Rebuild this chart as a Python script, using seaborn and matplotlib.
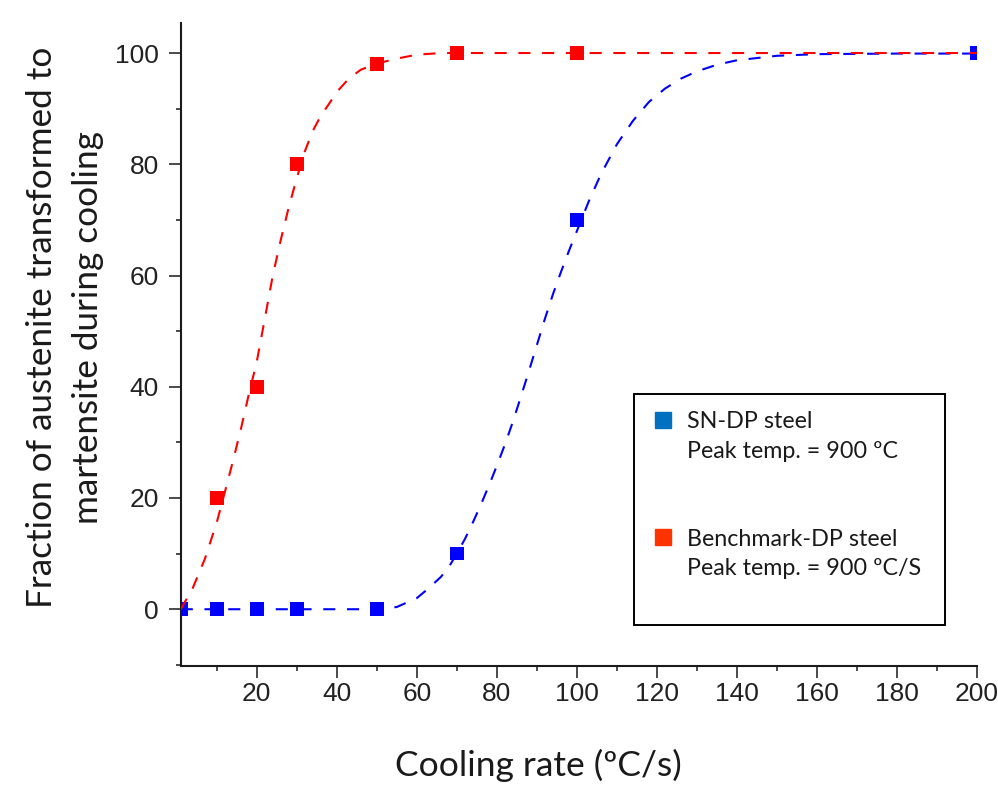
import matplotlib
matplotlib.use("Agg")
import matplotlib.pyplot as plt
import seaborn as sns
from matplotlib.lines import Line2D
from matplotlib.ticker import MultipleLocator, FixedLocator

# ---------------- data ----------------
cooling_rate = [1, 10, 20, 30, 50, 70, 100, 200]
sn_dp_fraction = [0, 0, 0, 0, 0, 10, 70, 100]
benchmark_fraction = [0, 20, 40, 80, 98, 100, 100, 100]

# dashed fitted curves
sn_fit_rate = [1, 20, 40, 50, 55, 60, 63, 66, 68, 70, 72, 74, 76, 78, 80, 82, 84, 86,
               88, 90, 92, 94, 96, 98, 100, 103, 106, 110, 114, 118, 122, 126, 130,
               135, 140, 150, 160, 180, 200]
sn_fit_fraction = [0, 0, 0, 0, 0.4, 2.0, 3.8, 5.8, 7.6, 10.0, 12.6, 15.6, 18.8, 22.2,
                   25.8, 29.6, 33.7, 38.2, 42.8, 47.5, 52.2, 56.6, 60.6, 64.4, 68.0,
                   73.4, 78.2, 83.6, 87.8, 91.2, 93.6, 95.4, 96.7, 97.9, 98.7, 99.5,
                   99.8, 99.9, 99.9]
bm_fit_rate = [1, 4, 7, 10, 12, 14, 16, 18, 20, 22, 24, 26, 28, 30, 32, 34, 36, 38, 40,
               43, 46, 50, 55, 60, 66, 80, 100, 150, 200]
bm_fit_fraction = [0, 3.8, 9.0, 15.6, 21.0, 26.5, 32.3, 38.6, 44.5, 52.2, 60.0, 66.4,
                   72.3, 77.5, 82.3, 86.0, 88.7, 90.8, 93.0, 95.4, 97.0, 98.1, 99.0,
                   99.7, 100, 100, 100, 100, 100]

series_names = ["SN-DP steel", "Benchmark-DP steel"]
peak_labels = ["Peak temp. = 900 \u00baC", "Peak temp. = 900 \u00baC/S"]
x_label = "Cooling rate (\u00baC/s)"
y_label = "Fraction of austenite transformed to\nmartensite during cooling"
x_ticks = [20, 40, 60, 80, 100, 120, 140, 160, 180, 200]
y_ticks = [0, 20, 40, 60, 80, 100]

# ---------------- styling ----------------
sns.set_style("ticks")
plt.rcParams["font.family"] = ["Lato", "DejaVu Sans"]

BLUE = "#0000FF"
RED = "#FF0000"
LEG_BLUE = "#0070C0"
LEG_RED = "#FF3300"
TXT = "#1a1a1a"
LABEL_FONT = ["Lato", "DejaVu Sans"]
TICK_FONT = ["Liberation Sans", "DejaVu Sans"]

fig = plt.figure(figsize=(9.98, 7.90), dpi=100)
ax = fig.add_axes([0.1811, 0.157, 0.7979, 0.8139])
renderer = fig.canvas.get_renderer()


def fitted_size(s, family, base, target_px):
    t = fig.text(0, 0, s, fontsize=base, family=family)
    w = t.get_window_extent(renderer=renderer).width
    t.remove()
    return base * target_px / w


# markers first, then the dashed fits on top
sns.scatterplot(x=cooling_rate, y=benchmark_fraction, ax=ax, marker="s", s=95,
                color=RED, edgecolor="none", linewidth=0, zorder=3, legend=False)
sns.scatterplot(x=cooling_rate, y=sn_dp_fraction, ax=ax, marker="s", s=95,
                color=BLUE, edgecolor="none", linewidth=0, zorder=3, legend=False)
sns.lineplot(x=sn_fit_rate, y=sn_fit_fraction, ax=ax, color=BLUE, linewidth=1.5,
             linestyle="--", errorbar=None, zorder=4)
ax.lines[-1].set_dashes((5.8, 5.6))
sns.lineplot(x=bm_fit_rate, y=bm_fit_fraction, ax=ax, color=RED, linewidth=1.5,
             linestyle="--", errorbar=None, zorder=5)
ax.lines[-1].set_dashes((5.8, 5.6))

# axes limits & ticks
ax.set_xlim(1, 200)
ax.set_ylim(-10.2, 105.4)
ax.xaxis.set_major_locator(FixedLocator(x_ticks))
ax.xaxis.set_minor_locator(MultipleLocator(10))
ax.yaxis.set_major_locator(FixedLocator(y_ticks))
ax.yaxis.set_minor_locator(MultipleLocator(10))
ax.set_xticklabels([str(v) for v in x_ticks])
ax.set_yticklabels([str(v) for v in y_ticks])

for side in ["top", "right"]:
    ax.spines[side].set_visible(False)
for side in ["left", "bottom"]:
    ax.spines[side].set_linewidth(1.5)
    ax.spines[side].set_color(TXT)

ax.tick_params(axis="both", which="major", direction="out", length=8.6, width=1.1,
               color=TXT, labelsize=19, labelcolor="#222222")
ax.tick_params(axis="both", which="minor", direction="out", length=3.8, width=1.1,
               color=TXT)
ax.tick_params(axis="x", which="major", pad=3)
ax.tick_params(axis="y", which="major", pad=7)
for lab in ax.get_xticklabels() + ax.get_yticklabels():
    lab.set_family(TICK_FONT)

# axis labels
xl_size = fitted_size(x_label, LABEL_FONT, 20, 287)
yl_size = fitted_size(y_label.split("\n")[0], LABEL_FONT, 20, 562)
ax.set_xlabel(x_label, fontsize=xl_size, family=LABEL_FONT, color=TXT)
ax.set_ylabel(y_label, fontsize=yl_size, family=LABEL_FONT, color=TXT, linespacing=1.55)
ax.xaxis.set_label_coords(0.4487, -0.154)
ax.xaxis.label.set_va("center")
ax.yaxis.set_label_coords(-0.1453, 0.527)
ax.yaxis.label.set_va("center")

# legend
leg_size = fitted_size(peak_labels[1], LABEL_FONT, 12, 232)
blank = Line2D([], [], linestyle="None", marker="None")
handles = [
    Line2D([], [], linestyle="None", marker="s", markersize=11.3, color=LEG_BLUE),
    blank, blank, blank,
    Line2D([], [], linestyle="None", marker="s", markersize=11.3, color=LEG_RED),
    blank, blank,
]
labels = [series_names[0], peak_labels[0], " ", " ", series_names[1], peak_labels[1], " "]
leg = ax.legend(handles, labels, loc="upper left",
                bbox_to_anchor=(0.569, 0.068, 0.3906, 0.355), mode="expand",
                borderaxespad=0, borderpad=0.74, handlelength=1.02, handletextpad=0.55,
                labelspacing=0.36, frameon=True, fancybox=False, framealpha=1,
                edgecolor="black", prop={"family": LABEL_FONT, "size": leg_size})
leg.get_frame().set_linewidth(1.4)
for t in leg.get_texts():
    t.set_color(TXT)

fig.savefig("out.png", dpi=100)
